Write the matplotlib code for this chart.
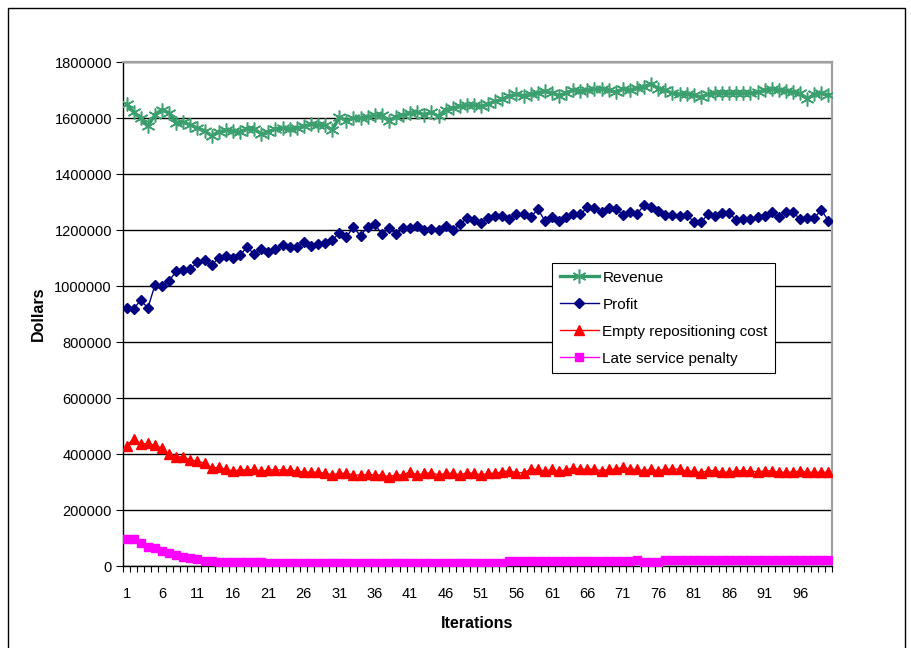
import matplotlib
matplotlib.use("Agg")
import matplotlib.pyplot as plt
from matplotlib.patches import Rectangle

plt.rcParams['font.family'] = ['Liberation Sans', 'DejaVu Sans']

iterations = list(range(1, 101))

revenue = [
    1650000, 1620000, 1600000, 1570000, 1612000, 1630000, 1618000, 1582000, 1585000, 1576000,
    1564000, 1555000, 1536000, 1551000, 1556000, 1553000, 1551000, 1562000, 1562000, 1543000,
    1551000, 1562000, 1564000, 1562000, 1564000, 1571000, 1578000, 1575000, 1575000, 1556000,
    1603000, 1590000, 1600000, 1600000, 1605000, 1610000, 1612000, 1588000, 1605000, 1612000,
    1618000, 1620000, 1612000, 1620000, 1606000, 1630000, 1636000, 1642000, 1645000, 1645000,
    1642000, 1650000, 1660000, 1667000, 1679000, 1685000, 1680000, 1685000, 1691000, 1695000,
    1691000, 1680000, 1690000, 1700000, 1697000, 1700000, 1702000, 1705000, 1700000, 1692000,
    1705000, 1700000, 1708000, 1712000, 1722000, 1705000, 1700000, 1688000, 1685000, 1685000,
    1683000, 1675000, 1685000, 1688000, 1690000, 1688000, 1690000, 1688000, 1690000, 1692000,
    1700000, 1702000, 1700000, 1698000, 1692000, 1688000, 1668000, 1685000, 1688000, 1683000,
]

profit = [
    921000, 918000, 950000, 921000, 1003000, 1000000, 1018000, 1053000, 1057000, 1060000,
    1086000, 1093000, 1075000, 1100000, 1107000, 1100000, 1110000, 1139000, 1114000, 1132000,
    1121000, 1132000, 1146000, 1139000, 1139000, 1157000, 1143000, 1150000, 1153000, 1164000,
    1189000, 1175000, 1210000, 1179000, 1212000, 1221000, 1186000, 1206000, 1186000, 1206000,
    1206000, 1215000, 1200000, 1204000, 1200000, 1215000, 1200000, 1220000, 1242000, 1236000,
    1224000, 1244000, 1251000, 1251000, 1238000, 1256000, 1256000, 1245000, 1275000, 1233000,
    1245000, 1233000, 1245000, 1256000, 1256000, 1281000, 1277000, 1263000, 1280000, 1275000,
    1254000, 1263000, 1257000, 1289000, 1283000, 1269000, 1254000, 1254000, 1250000, 1254000,
    1230000, 1227000, 1256000, 1250000, 1260000, 1260000, 1236000, 1238000, 1238000, 1245000,
    1250000, 1265000, 1245000, 1265000, 1263000, 1239000, 1244000, 1244000, 1271000, 1233000,
]

empty_repositioning = [
    428000, 455000, 435000, 438000, 431000, 420000, 400000, 390000, 390000, 378000,
    375000, 367000, 351000, 352000, 345000, 340000, 343000, 343000, 345000, 339000,
    343000, 343000, 343000, 343000, 339000, 336000, 335000, 335000, 331000, 325000,
    331000, 331000, 325000, 325000, 327000, 325000, 325000, 319000, 325000, 325000,
    337000, 325000, 331000, 333000, 325000, 331000, 331000, 325000, 333000, 331000,
    325000, 331000, 331000, 337000, 340000, 333000, 333000, 345000, 345000, 339000,
    345000, 339000, 343000, 350000, 345000, 346000, 346000, 340000, 345000, 346000,
    352000, 345000, 345000, 339000, 346000, 339000, 346000, 346000, 346000, 339000,
    339000, 333000, 340000, 340000, 335000, 335000, 340000, 340000, 340000, 335000,
    340000, 340000, 335000, 335000, 335000, 340000, 335000, 335000, 335000, 335000,
]

late_penalty = [
    95000, 95000, 81000, 69000, 63000, 54000, 48000, 39000, 33000, 30000,
    24000, 19000, 18000, 13000, 13000, 13000, 13000, 13000, 13000, 13000,
    10000, 10000, 10000, 10000, 10000, 10000, 10000, 10000, 10000, 10000,
    10000, 10000, 10000, 10000, 10000, 10000, 10000, 10000, 10000, 10000,
    10000, 10000, 10000, 10000, 10000, 10000, 10000, 10000, 10000, 10000,
    10000, 10000, 10000, 10000, 17000, 17000, 17000, 17000, 17000, 17000,
    17000, 17000, 17000, 17000, 17000, 17000, 17000, 17000, 17000, 17000,
    17000, 17000, 23000, 15000, 15000, 15000, 21000, 21000, 21000, 21000,
    21000, 21000, 21000, 21000, 21000, 21000, 21000, 21000, 21000, 21000,
    21000, 21000, 21000, 21000, 21000, 21000, 21000, 21000, 21000, 21000,
]

y_ticks = list(range(0, 1800001, 200000))
x_tick_labels = list(range(1, 101, 5))

fig = plt.figure(figsize=(9.12, 6.48), dpi=100)
fig.patch.set_facecolor('white')
# outer chart-area frame
fig.add_artist(Rectangle((8 / 912, -0.01), 897 / 912, 1 - 8 / 648 + 0.01,
                         transform=fig.transFigure, fill=False,
                         edgecolor='black', linewidth=1.0))

ax = fig.add_axes([123 / 912, 1 - 566 / 648, (832 - 123) / 912, (566 - 62) / 648])

ax.plot(iterations, revenue, color='#339966', linewidth=2.4,
        marker=(6, 2, 0), markersize=10, markeredgewidth=1.1,
        markeredgecolor='#3CA070', label='Revenue', zorder=3)
ax.plot(iterations, profit, color='#000080', linewidth=1.0,
        marker='D', markersize=5.5, markeredgecolor='#000080',
        markerfacecolor='#000080', label='Profit', zorder=3)
ax.plot(iterations, empty_repositioning, color='#FF0000', linewidth=1.0,
        marker='^', markersize=7, markeredgecolor='#FF0000',
        markerfacecolor='#FF0000', label='Empty repositioning cost', zorder=3)
ax.plot(iterations, late_penalty, color='#FF00FF', linewidth=1.0,
        marker='s', markersize=6, markeredgecolor='#FF00FF',
        markerfacecolor='#FF00FF', label='Late service penalty', zorder=3)

ax.set_xlim(0.5, 100.5)
ax.set_ylim(0, 1800000)
ax.set_yticks(y_ticks)
ax.set_yticklabels([str(v) for v in y_ticks])
ax.yaxis.grid(True, color='black', linewidth=1.0)
ax.set_axisbelow(True)

# category ticks between points, labels every fifth category
ax.set_xticks([i + 0.5 for i in range(0, 101)], minor=True)
ax.set_xticks(x_tick_labels)
ax.set_xticklabels([str(v) for v in x_tick_labels])
ax.tick_params(axis='x', which='major', length=0, labelsize=10.5, pad=15)
ax.tick_params(axis='x', which='minor', length=4, width=0.8, direction='out', color='black')
ax.tick_params(axis='y', which='major', length=5, width=0.8, direction='out', labelsize=10.5, pad=3)

for side in ('left', 'bottom'):
    ax.spines[side].set_color('black')
    ax.spines[side].set_linewidth(1.0)
for side in ('top', 'right'):
    ax.spines[side].set_color('#A0A0A0')
    ax.spines[side].set_linewidth(1.6)

ax.set_xlabel('Iterations', fontsize=11.5, fontweight='bold', labelpad=11)
ax.set_ylabel('Dollars', fontsize=11.5, fontweight='bold', labelpad=6)

leg = ax.legend(loc='upper left', bbox_to_anchor=(0.605, 0.601), fontsize=11,
                frameon=True, fancybox=False, shadow=False, borderpad=0.5,
                labelspacing=0.85, handlelength=2.6, handletextpad=0.2,
                borderaxespad=0)
leg.get_frame().set_edgecolor('black')
leg.get_frame().set_linewidth(0.8)
leg.get_frame().set_facecolor('white')
leg.get_frame().set_alpha(1.0)

fig.savefig('out.png', dpi=100)
